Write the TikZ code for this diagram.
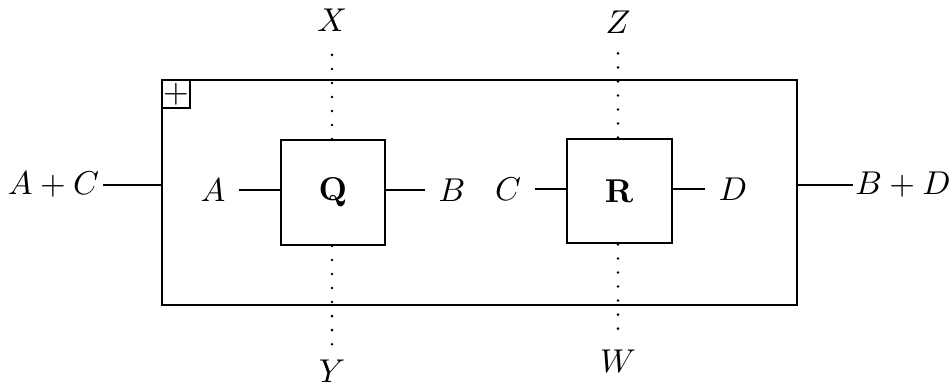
\documentclass[tikz,border=0pt]{standalone}
\begin{document}
\begin{tikzpicture}[x=0.303pt,y=-0.303pt,
  box/.style={draw,line width=0.6pt,minimum size=31.8pt,inner sep=0pt,fill=white},
  lbl/.style={inner sep=4pt},
  wire/.style={line width=0.6pt},
  dotline/.style={line width=0.85pt,line cap=round,dash pattern=on 0pt off 4.25pt}]
\useasboundingbox (0,0) rectangle (951,385);
\node[draw,line width=0.6pt,minimum width=192.4pt,minimum height=68.2pt,inner sep=0pt] (outer) at (479.5,192.5) {};
\node[draw,line width=0.6pt,anchor=north west,minimum size=8.5pt,inner sep=0pt] (plus) at (outer.north west) {$+$};
\node[box] (Q) at (333,192.5) {\textbf{Q}};
\node[box] (R) at (619.2,191) {\textbf{R}};
\node (X) at (332,20) {$X$};
\node (Y) at (332,371) {$Y$};
\node (Z) at (618,22) {$Z$};
\node (W) at (618,361) {$W$};
\draw[dotline] (X.south |- Q.north) -- (X.south);
\draw[dotline] (Y.north |- Q.south) -- (Y.north);
\draw[dotline] (Z.south |- R.north) -- (Z.south);
\draw[dotline] (W.north |- R.south) -- (W.north);
\node[lbl] (A) at (213,190) {$A$};
\node[lbl] (B) at (452,190) {$B$};
\node[lbl] (C) at (508,189) {$C$};
\node[lbl] (D) at (733,189) {$D$};
\draw[wire] (A.east) -- (A.east -| Q.west);
\draw[wire] (Q.east |- B.west) -- (B.west);
\draw[wire] (C.east) -- (C.east -| R.west);
\draw[wire] (R.east |- D.west) -- (D.west);
\node[inner sep=1pt] (AC) at (53.5,185) {$A+C$};
\node[inner sep=0.5pt] (BD) at (903,185) {$B+D$};
\draw[wire] (AC.east) -- (AC.east -| outer.west);
\draw[wire] (outer.east |- BD.west) -- (BD.west);
\end{tikzpicture}
\end{document}
